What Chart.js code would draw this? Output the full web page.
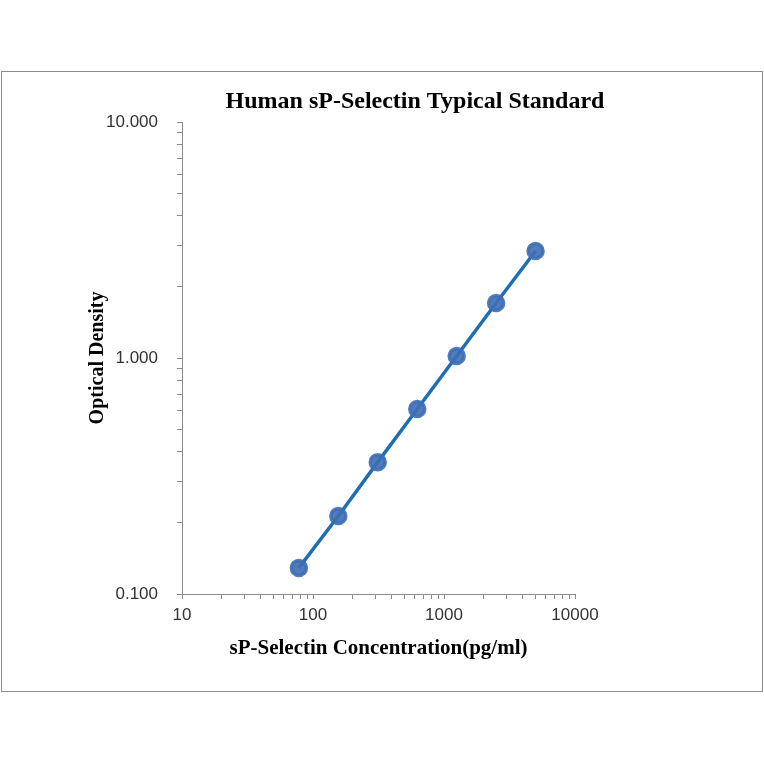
<!DOCTYPE html>
<html><head><meta charset="utf-8">
<script src="https://cdn.jsdelivr.net/npm/chart.js@4"></script>
<style>
html,body{margin:0;padding:0;background:#fff;width:764px;height:764px;overflow:hidden}
#box{position:absolute;left:1px;top:71px;width:760px;height:619px;border:1px solid #8c8c8c}
</style></head><body>
<div id="box"><canvas id="c" width="760" height="619"></canvas></div>
<script>
const concentrations = [78, 156, 312, 625, 1250, 2500, 5000];
const odValues = [0.129, 0.214, 0.362, 0.608, 1.02, 1.71, 2.84];
const xTickValues = [10, 100, 1000, 10000];
const yTickValues = [0.1, 1, 10];
const titleText = 'Human sP-Selectin Typical Standard';
const xTitle = 'sP-Selectin Concentration(pg/ml)';
const yTitle = 'Optical Density';

function allLogTicks(min, max){const t=[];for(let d=min;d<max;d*=10){for(let k=1;k<10;k++)t.push({value:+(d*k).toPrecision(6)});}t.push({value:max});return t;}
const isMajor=(v,list)=>list.some(m=>Math.abs(m-v)/m<1e-6);

const titlePlugin={id:'tt',afterDraw(ch){const c=ch.ctx;c.save();c.font='bold 24px "Liberation Serif"';c.fillStyle='#000';c.textAlign='center';c.textBaseline='middle';c.fillText(titleText,413,30);c.restore();}};

new Chart(document.getElementById('c'),{
type:'line',
data:{datasets:[{data:concentrations.map((x,i)=>({x,y:odValues[i]})),borderColor:'#1f6eb4',borderWidth:3.5,pointRadius:7.5,pointHoverRadius:7.5,pointBackgroundColor:'rgba(62,110,180,0.9)',pointBorderColor:'rgba(62,110,180,0.9)',tension:0}]},
options:{responsive:false,animation:false,devicePixelRatio:1,
layout:{padding:{top:50,left:80,right:187,bottom:30}},
plugins:{legend:{display:false},tooltip:{enabled:false}},
scales:{
x:{type:'logarithmic',min:10,max:10000,
 afterBuildTicks(s){s.ticks=allLogTicks(10,10000);},
 afterFit(s){s.height=67;},
 border:{color:'#8c8c8c'},
 grid:{display:true,drawOnChartArea:false,tickLength:5,color:'#8c8c8c'},
 ticks:{autoSkip:false,maxRotation:0,color:'#333',font:{family:'Liberation Sans',size:17},padding:6,callback:(v)=>isMajor(v,xTickValues)?String(v):''},
 title:{display:true,text:xTitle,color:'#000',font:{family:'Liberation Serif',size:21,weight:'bold'},padding:{top:2,bottom:0}}},
y:{type:'logarithmic',min:0.1,max:10,
 afterBuildTicks(s){s.ticks=allLogTicks(0.1,10);},
 afterFit(s){s.width=100;},
 border:{color:'#8c8c8c'},
 grid:{display:true,drawOnChartArea:false,tickLength:5,color:'#8c8c8c'},
 ticks:{autoSkip:false,color:'#333',font:{family:'Liberation Sans',size:17},padding:19,callback:(v)=>isMajor(v,yTickValues)?Number(v).toFixed(3):''},
 title:{display:true,text:yTitle,color:'#000',font:{family:'Liberation Serif',size:20,weight:'bold'},padding:{top:4,bottom:0}}}
}},
plugins:[titlePlugin]});
</script></body></html>
